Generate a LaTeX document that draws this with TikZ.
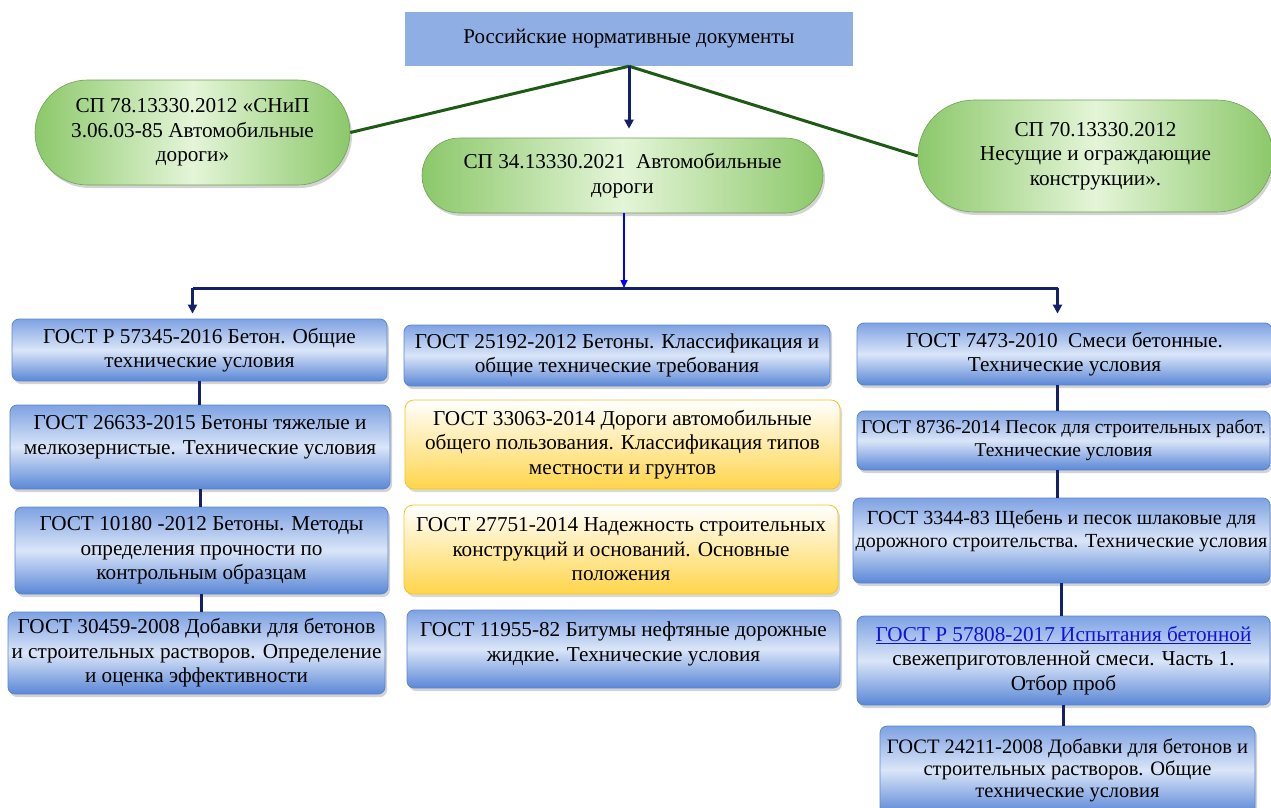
\documentclass[tikz,border=0pt]{standalone}
\usepackage{fontspec}
\setmainfont{Liberation Serif}
\usetikzlibrary{arrows.meta,shadows,shapes.misc}
\definecolor{titlefill}{HTML}{8FAEE3}
\definecolor{greenedge}{HTML}{8CC86A}
\definecolor{greenmid}{HTML}{E4F5D8}
\definecolor{bluetop}{HTML}{7EA2E2}
\definecolor{bluemid}{HTML}{DAE5F8}
\definecolor{bluebot}{HTML}{5A87D6}
\definecolor{blueline}{HTML}{5A86D2}
\definecolor{yellowbot}{HTML}{FFD54A}
\definecolor{yellowline}{HTML}{F3C623}
\definecolor{navy}{HTML}{14206A}
\definecolor{darkgreen}{HTML}{1D5A14}
\definecolor{linkblue}{HTML}{1010E0}
\begin{document}
\begin{tikzpicture}[x=1pt,y=-1pt]
	\tikzstyle{every node}=[font=\fontsize{21.2}{24.5}\selectfont, align=center, inner sep=0pt]
	\tikzstyle{titlebox}=[rectangle, fill=titlefill, font=\fontsize{21}{24}\selectfont]
	\tikzstyle{pill}=[rounded rectangle, draw=greenedge!80!black, line width=0.6pt, left color=greenedge, right color=greenedge, middle color=greenmid, drop shadow={shadow xshift=2pt, shadow yshift=-3pt, opacity=0.35}]
	\tikzstyle{bluebox}=[rectangle, rounded corners=7pt, draw=blueline, line width=0.8pt, top color=bluetop, bottom color=bluebot, middle color=bluemid, drop shadow={shadow xshift=2pt, shadow yshift=-3pt, opacity=0.35}]
	\tikzstyle{yellowbox}=[rectangle, rounded corners=9pt, draw=yellowline, line width=0.8pt, top color=white, bottom color=yellowbot, drop shadow={shadow xshift=2pt, shadow yshift=-3pt, opacity=0.3}]
	\tikzstyle{greenline}=[draw=darkgreen, line width=3pt]
	\tikzstyle{navyline}=[draw=navy, line width=3pt]
	\tikzstyle{navyarrow}=[navyline, -{Triangle[length=9pt,width=9pt]}]
	\useasboundingbox (0,0) rectangle (1271,807);

	\node[titlebox, minimum width=448pt, minimum height=54pt] (top) at (629,39) {Российские нормативные документы};

	\node[pill, minimum width=315pt, minimum height=105pt] (spleft) at (192.5,132.5) {СП 78.13330.2012 «СНиП\\3.06.03-85 Автомобильные\\дороги»};
	\node[pill, minimum width=401pt, minimum height=75pt] (spmid) at (622.5,175.5) {СП 34.13330.2021\ \ Автомобильные\\дороги};
	\node[pill, minimum width=355pt, minimum height=112pt] (spright) at (1095.5,156) {СП 70.13330.2012\\Несущие и ограждающие\\конструкции».};

	\node[bluebox, minimum width=375pt, minimum height=62pt] (l1) at (199.5,350) {ГОСТ Р 57345-2016 Бетон. Общие\\технические условия};
	\node[bluebox, minimum width=380pt, minimum height=84pt] (l2) at (200,447) {ГОСТ 26633-2015 Бетоны тяжелые и\\мелкозернистые. Технические условия\\ \mbox{}};
	\node[bluebox, minimum width=373pt, minimum height=87pt] (l3) at (201.5,550.5) {ГОСТ 10180 -2012 Бетоны. Методы\\определения прочности по\\контрольным образцам};
	\node[bluebox, minimum width=377pt, minimum height=82pt] (l4) at (196.5,653) {ГОСТ 30459-2008 Добавки для бетонов\\и строительных растворов. Определение\\и оценка эффективности};

	\node[bluebox, minimum width=426pt, minimum height=61pt] (m1) at (617,355.5) {ГОСТ 25192-2012 Бетоны. Классификация и\\общие технические требования};
	\node[yellowbox, minimum width=435pt, minimum height=89pt] (m2) at (622.5,444.5) {ГОСТ 33063-2014 Дороги автомобильные\\общего пользования. Классификация типов\\местности и грунтов};
	\node[yellowbox, minimum width=434pt, minimum height=89pt] (m3) at (621,549.5) {ГОСТ 27751-2014 Надежность строительных\\конструкций и оснований. Основные\\положения};
	\node[bluebox, minimum width=433pt, minimum height=78pt] (m4) at (623.5,649) {ГОСТ 11955-82 Битумы нефтяные дорожные\\жидкие. Технические условия\\[-10pt]};

	\node[bluebox, minimum width=415pt, minimum height=62pt] (r1) at (1064.5,354) {ГОСТ 7473-2010\ \ Смеси бетонные.\\Технические условия};
	\node[bluebox, minimum width=413pt, minimum height=59pt, font=\fontsize{19.5}{23}\selectfont] (r2) at (1063.5,440.5) {ГОСТ 8736-2014 Песок для строительных работ.\\Технические условия};
	\node[bluebox, minimum width=417pt, minimum height=85pt, font=\fontsize{20}{23.5}\selectfont] (r3) at (1061.5,540.5) {ГОСТ 3344-83 Щебень и песок шлаковые для\\дорожного строительства. Технические условия\\ \mbox{}};
	\node[bluebox, minimum width=413pt, minimum height=89pt] (r4) at (1063.5,660.5) {\textcolor{linkblue}{\underline{ГОСТ Р 57808-2017 Испытания бетонной}}\\свежеприготовленной смеси. Часть 1.\\Отбор проб};
	\node[bluebox, minimum width=375pt, minimum height=88pt, font=\fontsize{20.5}{22}\selectfont] (r5) at (1067.5,770) {ГОСТ 24211-2008 Добавки для бетонов и\\строительных растворов. Общие\\технические условия};

	\draw[greenline] (top.south) -- (spleft.east);
	\draw[greenline] (top.south) -- (spright.west);
	\draw[navyarrow, shorten >=9pt] (top.south) -- (top.south |- spmid.north);

	\coordinate (split) at (624,288);
	\draw[draw=blue, line width=1.5pt, -{Triangle[length=8pt,width=7pt]}] (split |- spmid.south) -- (split);
	\draw[navyline] ([xshift=-7pt]l1.north |- split) -- ([xshift=-7pt]r1.north |- split);
	\draw[navyarrow, line width=2.5pt, shorten >=5pt] ([xshift=-7pt]l1.north |- split) -- ([xshift=-7pt]l1.north);
	\draw[navyarrow, line width=2.5pt, shorten >=9pt] ([xshift=-7pt]r1.north |- split) -- ([xshift=-7pt]r1.north);

	\draw[navyline] (l1.south) -- (l1.south |- l2.north);
	\draw[navyline] (l2.south) -- (l2.south |- l3.north);
	\draw[navyline] (l3.south) -- (l3.south |- l4.north);
	\draw[navyline] ([xshift=-7pt]r1.south) -- ([xshift=-7pt]r1.south |- r2.north);
	\draw[navyline] ([xshift=-6pt]r2.south) -- ([xshift=-6pt]r2.south |- r3.north);
	\draw[navyline] (r3.south) -- (r3.south |- r4.north);
	\draw[navyline] (r4.south) -- (r4.south |- r5.north);
\end{tikzpicture}
\end{document}
